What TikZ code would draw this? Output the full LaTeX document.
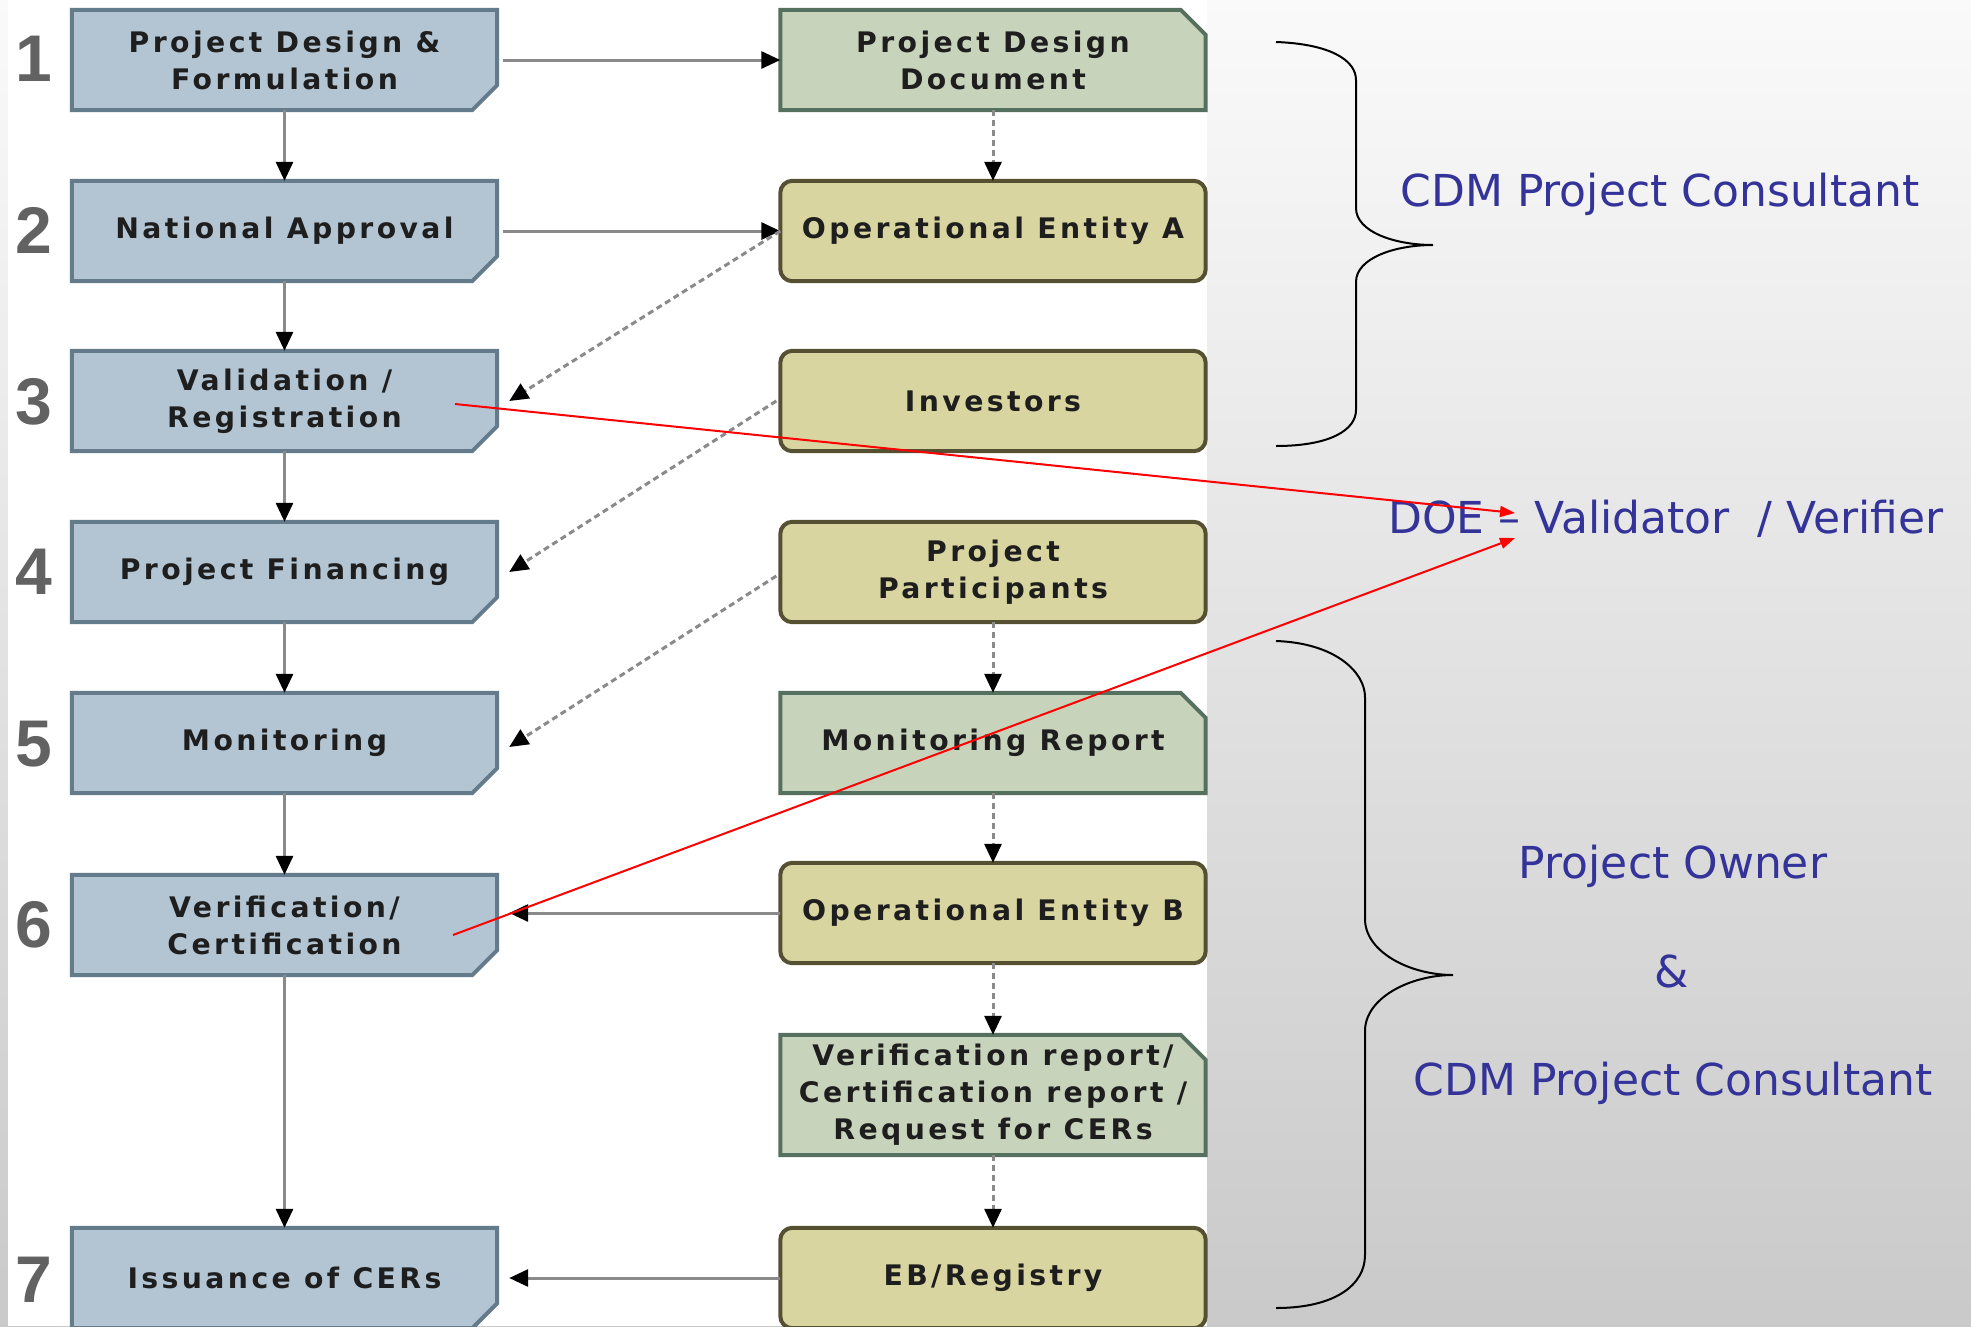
\documentclass[tikz,border=0pt]{standalone}
\usepackage{fontspec}
\usetikzlibrary{arrows.meta,backgrounds}
\newfontfamily\boxfam{DejaVu Sans}[LetterSpace=12]
\newfontfamily\numfam{Liberation Sans}
\newfontfamily\labfam{DejaVu Sans}
\definecolor{bluefill}{HTML}{B3C5D3}
\definecolor{blueline}{HTML}{647B8B}
\definecolor{greenfill}{HTML}{C8D3BB}
\definecolor{greenline}{HTML}{56705F}
\definecolor{khakifill}{HTML}{D8D5A0}
\definecolor{khakiline}{HTML}{555031}
\definecolor{boxtxt}{HTML}{1E1E1E}
\definecolor{numgray}{HTML}{626262}
\definecolor{labblue}{HTML}{333399}
\definecolor{conngray}{HTML}{8A8A8A}
\newcommand{\shapeSE}[1]{\filldraw[fill=bluefill,draw=blueline,line width=4pt,line join=miter] (#1.north west) -- (#1.north east) -- ([yshift=25pt]#1.south east) -- ([xshift=-25pt]#1.south east) -- (#1.south west) -- cycle;}
\newcommand{\shapeNE}[1]{\filldraw[fill=greenfill,draw=greenline,line width=4pt,line join=miter] (#1.south west) -- (#1.north west) -- ([xshift=-25pt]#1.north east) -- ([yshift=-25pt]#1.north east) -- (#1.south east) -- cycle;}
\newcommand{\shapeRR}[1]{\filldraw[fill=khakifill,draw=khakiline,line width=4pt,rounded corners=12pt] (#1.north west) rectangle (#1.south east);}
\begin{document}
\begin{tikzpicture}[x=1pt,y=-1pt,
  stepnode/.style={minimum width=425pt,minimum height=100pt,inner sep=0pt,align=center,
    font=\boxfam\bfseries\fontsize{28.3}{37}\selectfont,text=boxtxt},
  numnode/.style={inner sep=0pt,font=\numfam\bfseries\fontsize{66}{66}\selectfont,text=numgray},
  labnode/.style={inner sep=0pt,font=\labfam\fontsize{44}{50}\selectfont,text=labblue},
  solidarrow/.style={draw=conngray,line width=3pt,-{Triangle[length=19pt,width=17pt,color=black]}},
  dotarrow/.style={draw=conngray,line width=3pt,dash pattern=on 6pt off 4pt,-{Triangle[length=19pt,width=17pt,color=black]}},
  redarrow/.style={draw=red,line width=2pt,-{Triangle[length=15pt,width=11pt]}},
  bracestyle/.style={draw=black,line width=2pt}]
\useasboundingbox (0,0) rectangle (1971,1326);

% left column
\node[stepnode] (s1) at (284.5,60) {Project Design \&\\Formulation};
\node[stepnode] (s2) at (284.5,231) {National Approval};
\node[stepnode] (s3) at (284.5,401) {Validation /\\Registration};
\node[stepnode] (s4) at (284.5,572) {Project Financing};
\node[stepnode] (s5) at (284.5,743) {Monitoring};
\node[stepnode] (s6) at (284.5,925) {Verification/\\Certification};
\node[stepnode] (s7) at (284.5,1278) {Issuance of CERs};
% right column
\node[stepnode] (pdd) at (993,60) {Project Design\\Document};
\node[stepnode] (oea) at (993,231) {Operational Entity A};
\node[stepnode] (inv) at (993,401) {Investors};
\node[stepnode] (pp) at (993,572) {Project\\Participants};
\node[stepnode] (mr) at (993,743) {Monitoring Report};
\node[stepnode] (oeb) at (993,913) {Operational Entity B};
\node[stepnode,minimum height=120pt] (vr) at (993,1095) {Verification report/\\Certification report /\\Request for CERs};
\node[stepnode] (eb) at (993,1278) {EB/Registry};

\begin{scope}[on background layer]
\shade[top color=white!98!black,bottom color=white!79!black] (0,0) rectangle (1971,1326);
\fill[white] (8,0) rectangle (1207,1326);
\foreach \n in {s1,s2,s3,s4,s5,s6,s7} {\shapeSE{\n}}
\foreach \n in {pdd,mr,vr} {\shapeNE{\n}}
\foreach \n in {oea,inv,pp,oeb,eb} {\shapeRR{\n}}
\end{scope}

% numbers
\node[numnode] (n1) at (34,59) {1};
\node[numnode] (n2) at (34,230) {2};
\node[numnode] (n3) at (34,402) {3};
\node[numnode] (n4) at (34,572) {4};
\node[numnode] (n5) at (34,744) {5};
\node[numnode] (n6) at (34,925) {6};
\node[numnode] (n7) at (34,1280) {7};

% vertical flow
\draw[solidarrow] (s1.south) -- (s2.north);
\draw[solidarrow] (s2.south) -- (s3.north);
\draw[solidarrow] (s3.south) -- (s4.north);
\draw[solidarrow] (s4.south) -- (s5.north);
\draw[solidarrow] (s5.south) -- (s6.north);
\draw[solidarrow] (s6.south) -- (s7.north);
% horizontal
\draw[solidarrow] ([xshift=6pt]s1.east) -- (pdd.west);
\draw[solidarrow] ([xshift=6pt]s2.east) -- (oea.west);
\draw[solidarrow] (oeb.west) -- ([xshift=12pt]s6.east |- oeb.west);
\draw[solidarrow] (eb.west) -- ([xshift=12pt]s7.east |- eb.west);
% dotted
\draw[dotarrow] (pdd.south) -- (oea.north);
\draw[dotarrow] (pp.south) -- (mr.north);
\draw[dotarrow] (mr.south) -- (oeb.north);
\draw[dotarrow] (oeb.south) -- (vr.north);
\draw[dotarrow] (vr.south) -- (eb.north);
\draw[dotarrow] (oea.west) -- ([xshift=12pt]s3.east);
\draw[dotarrow] ([xshift=-4pt]inv.west) -- ([xshift=12pt]s4.east);
\draw[dotarrow] ([xshift=-4pt,yshift=-4pt]pp.west) -- ([xshift=12pt,yshift=-4pt]s5.east);

% braces
\draw[bracestyle] (1276,42) .. controls (1330,44) and (1356,60) .. (1356,80) -- (1356,208)
  .. controls (1356,232) and (1395,245) .. (1433,245)
  .. controls (1395,245) and (1356,258) .. (1356,282) -- (1356,410)
  .. controls (1356,430) and (1330,446) .. (1276,446);
\draw[bracestyle] (1276,641) .. controls (1335,643) and (1365,672) .. (1365,697) -- (1365,919)
  .. controls (1365,952) and (1410,975) .. (1453,975)
  .. controls (1410,975) and (1365,998) .. (1365,1031) -- (1365,1255)
  .. controls (1365,1285) and (1335,1308) .. (1276,1308);

% labels
\node[labnode,anchor=base] (lab1) at (1660,206) {CDM Project Consultant};
\node[labnode,anchor=base] (doe) at (1666,533) {DOE – Validator\ \ / Verifier};
\node[labnode,anchor=base] (lab2) at (1673,878) {Project Owner};
\node[labnode,anchor=base] (lab3) at (1672,987) {\&};
\node[labnode,anchor=base] (lab4) at (1673,1095) {CDM Project Consultant};

% red arrows
\coordinate (r3) at (455,404);
\coordinate (r6) at (453,935);
\coordinate (doeA) at (1515,513);
\coordinate (doeB) at (1515,538);
\draw[redarrow] (r3) -- (doeA);
\draw[redarrow] (r6) -- (doeB);
\end{tikzpicture}
\end{document}
